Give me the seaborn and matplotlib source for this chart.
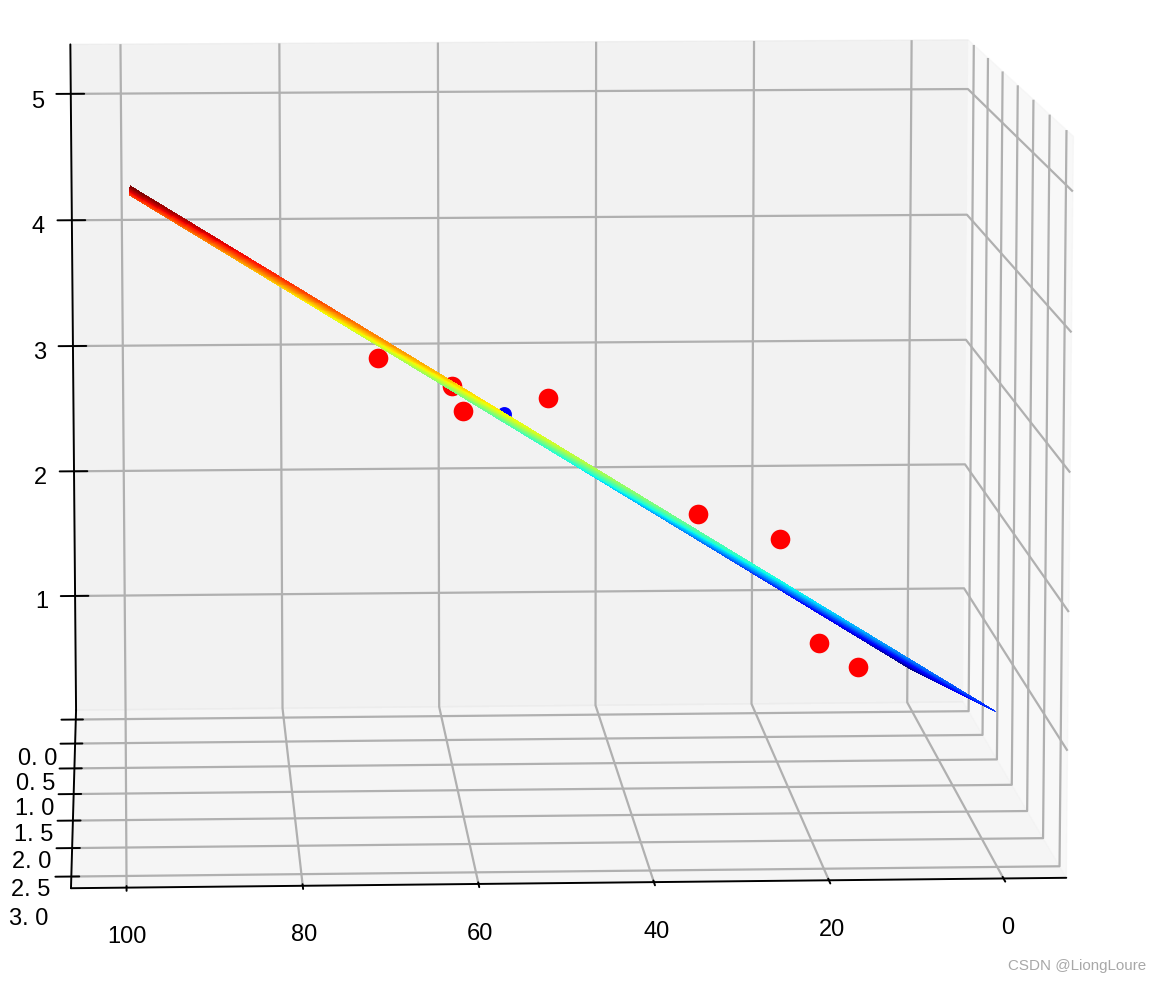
import numpy as np
import matplotlib
matplotlib.use("Agg")
import matplotlib.pyplot as plt
import seaborn as sns

# Observations (distance-like x, count-like y, response z)
red_x = [69.6, 60.74, 59.45, 49.3, 31.3, 21.4, 16.6, 11.9]
red_y = [1.6, 1.6, 1.6, 1.6, 1.6, 1.6, 1.6, 1.6]
red_z = [3.40, 3.183, 2.994, 3.09, 2.203, 2.006, 1.22, 1.03]
blue_x = [54.5]
blue_y = [1.6]
blue_z = [2.97]

# Fitted plane z = intercept + slope_x * x + slope_y * y
intercept = 0.414
slope_x = 0.0387
slope_y = 0.262
x_range = (0.3, 99)
y_range = (0, 3)

x_ticks = [0, 20, 40, 60, 80, 100]
y_ticks = [0.0, 0.5, 1.0, 1.5, 2.0, 2.5, 3.0]
y_tick_labels = ["0. 0", "0. 5", "1. 0", "1. 5", "2. 0", "2. 5", "3. 0"]
z_ticks = [1, 2, 3, 4, 5]

sns.set_style("white")
plt.rcParams.update({
    "font.family": ["Liberation Sans", "DejaVu Sans"],
    "font.size": 17,
    "axes.edgecolor": "black",
    "axes.linewidth": 1.4,
    "text.color": "black",
    "xtick.color": "black", "ytick.color": "black",
    "xtick.major.width": 1.4, "ytick.major.width": 1.4,
    "grid.color": "#b0b0b0", "grid.linewidth": 1.6,
})
jet = plt.get_cmap("jet")

W, H = 1160, 984
fig = plt.figure(figsize=(W / 100, H / 100), dpi=100)
side, cx, cy = 1490, 524, 461
ax = fig.add_axes([(cx - side / 2) / W, (H - cy - side / 2) / H, side / W, side / H],
                  projection="3d")
ax.patch.set_alpha(0)
ax.computed_zorder = False
ax.view_init(elev=8.35, azim=87)

gx, gy = np.meshgrid(np.linspace(*x_range, 60), np.linspace(*y_range, 60))
gz = intercept + slope_x * gx + slope_y * gy

ax.scatter(red_x, red_y, red_z, c="red", s=200, linewidths=0, depthshade=False, zorder=1)
ax.scatter(blue_x, blue_y, blue_z, c="blue", s=115, linewidths=0, depthshade=False, zorder=1)
ax.plot_surface(gx, gy, gz, cmap=jet, rstride=1, cstride=1, linewidth=0,
                antialiased=False, shade=False, alpha=0.85, zorder=2)

ax.set_xlim(-7.2, 106.3)
ax.set_ylim(-0.2, 3.2)
ax.set_zlim(0.08, 5.39)
ax.set_xticks(x_ticks)
ax.set_yticks(y_ticks)
ax.set_yticklabels(y_tick_labels)
ax.set_zticks(z_ticks)
ax.set_box_aspect((4, 4, 3), zoom=0.986)
ax.tick_params(axis="x", pad=15)
ax.tick_params(axis="y", pad=16)
ax.tick_params(axis="z", pad=13)
ax.zaxis._axinfo["tick"]["outward_factor"] = 0.186

fig.text(1146 / W, 1 - 966 / H, "CSDN @LiongLoure", ha="right", va="center",
         fontsize=10.9, color="#a8a8a8")
fig.savefig("out.png", dpi=100)
